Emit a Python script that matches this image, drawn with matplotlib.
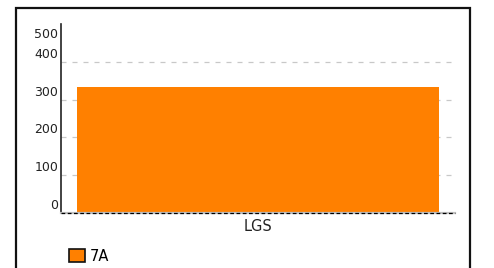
import matplotlib.pyplot as plt
import matplotlib.patches as mpatches
from matplotlib.transforms import ScaledTranslation

categories = ['LGS']
series_name = '7A'
values = [333]
yticks = [0, 100, 200, 300, 400, 500]

W, H = 494, 268
fig = plt.figure(figsize=(W / 100, H / 100), dpi=100)

# outer frame (runs off the bottom edge)
frame = mpatches.Rectangle((16 / W, -0.05), (470 - 16) / W, 1.05 - 8 / H,
                           transform=fig.transFigure, fill=False,
                           edgecolor='#111111', linewidth=1.6, clip_on=False)
fig.patches.append(frame)

ax = fig.add_axes([61 / W, (H - 213) / H, (455 - 61) / W, (213 - 24) / H])
ax.bar(categories, values, width=0.921, color='#ff8000', zorder=2, label=series_name)
ax.set_xlim(-0.5, 0.5)
ax.set_ylim(0, 500)

ax.set_yticks(yticks)
ax.set_yticklabels([str(v) for v in yticks], fontsize=9, color='#222222')
ax.tick_params(axis='y', length=0, pad=2)
ax.tick_params(axis='x', length=0, pad=4, labelsize=10.5, labelcolor='#222222')
for lab in ax.get_yticklabels():
    if lab.get_text() == '500':
        lab.set_va('top')
        lab.set_transform(lab.get_transform() + ScaledTranslation(0, -0.04, fig.dpi_scale_trans))
    else:
        lab.set_va('bottom')
        lab.set_transform(lab.get_transform() + ScaledTranslation(0, 0.01, fig.dpi_scale_trans))

ax.yaxis.grid(True, color='#c8c8c8', linestyle=(0, (4, 4.8)), linewidth=0.9, zorder=1)
ax.set_axisbelow(True)
# no grid line at the top (500) or at 0
for g, v in zip(ax.get_ygridlines(), yticks):
    if v in (0, 500):
        g.set_visible(False)

for s in ['top', 'right']:
    ax.spines[s].set_visible(False)
ax.spines['left'].set_color('#222222')
ax.spines['left'].set_linewidth(1.2)
ax.spines['bottom'].set_color('#c0c0c0')
ax.spines['bottom'].set_linewidth(1.6)
ax.axhline(0, color='black', linestyle=(0, (3, 2)), linewidth=0.9, zorder=3, clip_on=False)

leg = ax.legend(loc='upper left', bbox_to_anchor=(0.006, -0.158), frameon=False,
                fontsize=10.5, handlelength=1.05, handleheight=1.05, handletextpad=0.35,
                borderaxespad=0)
for h in leg.legend_handles:
    h.set_edgecolor('#111111')
    h.set_linewidth(1.2)

fig.savefig('out.png', dpi=100)
